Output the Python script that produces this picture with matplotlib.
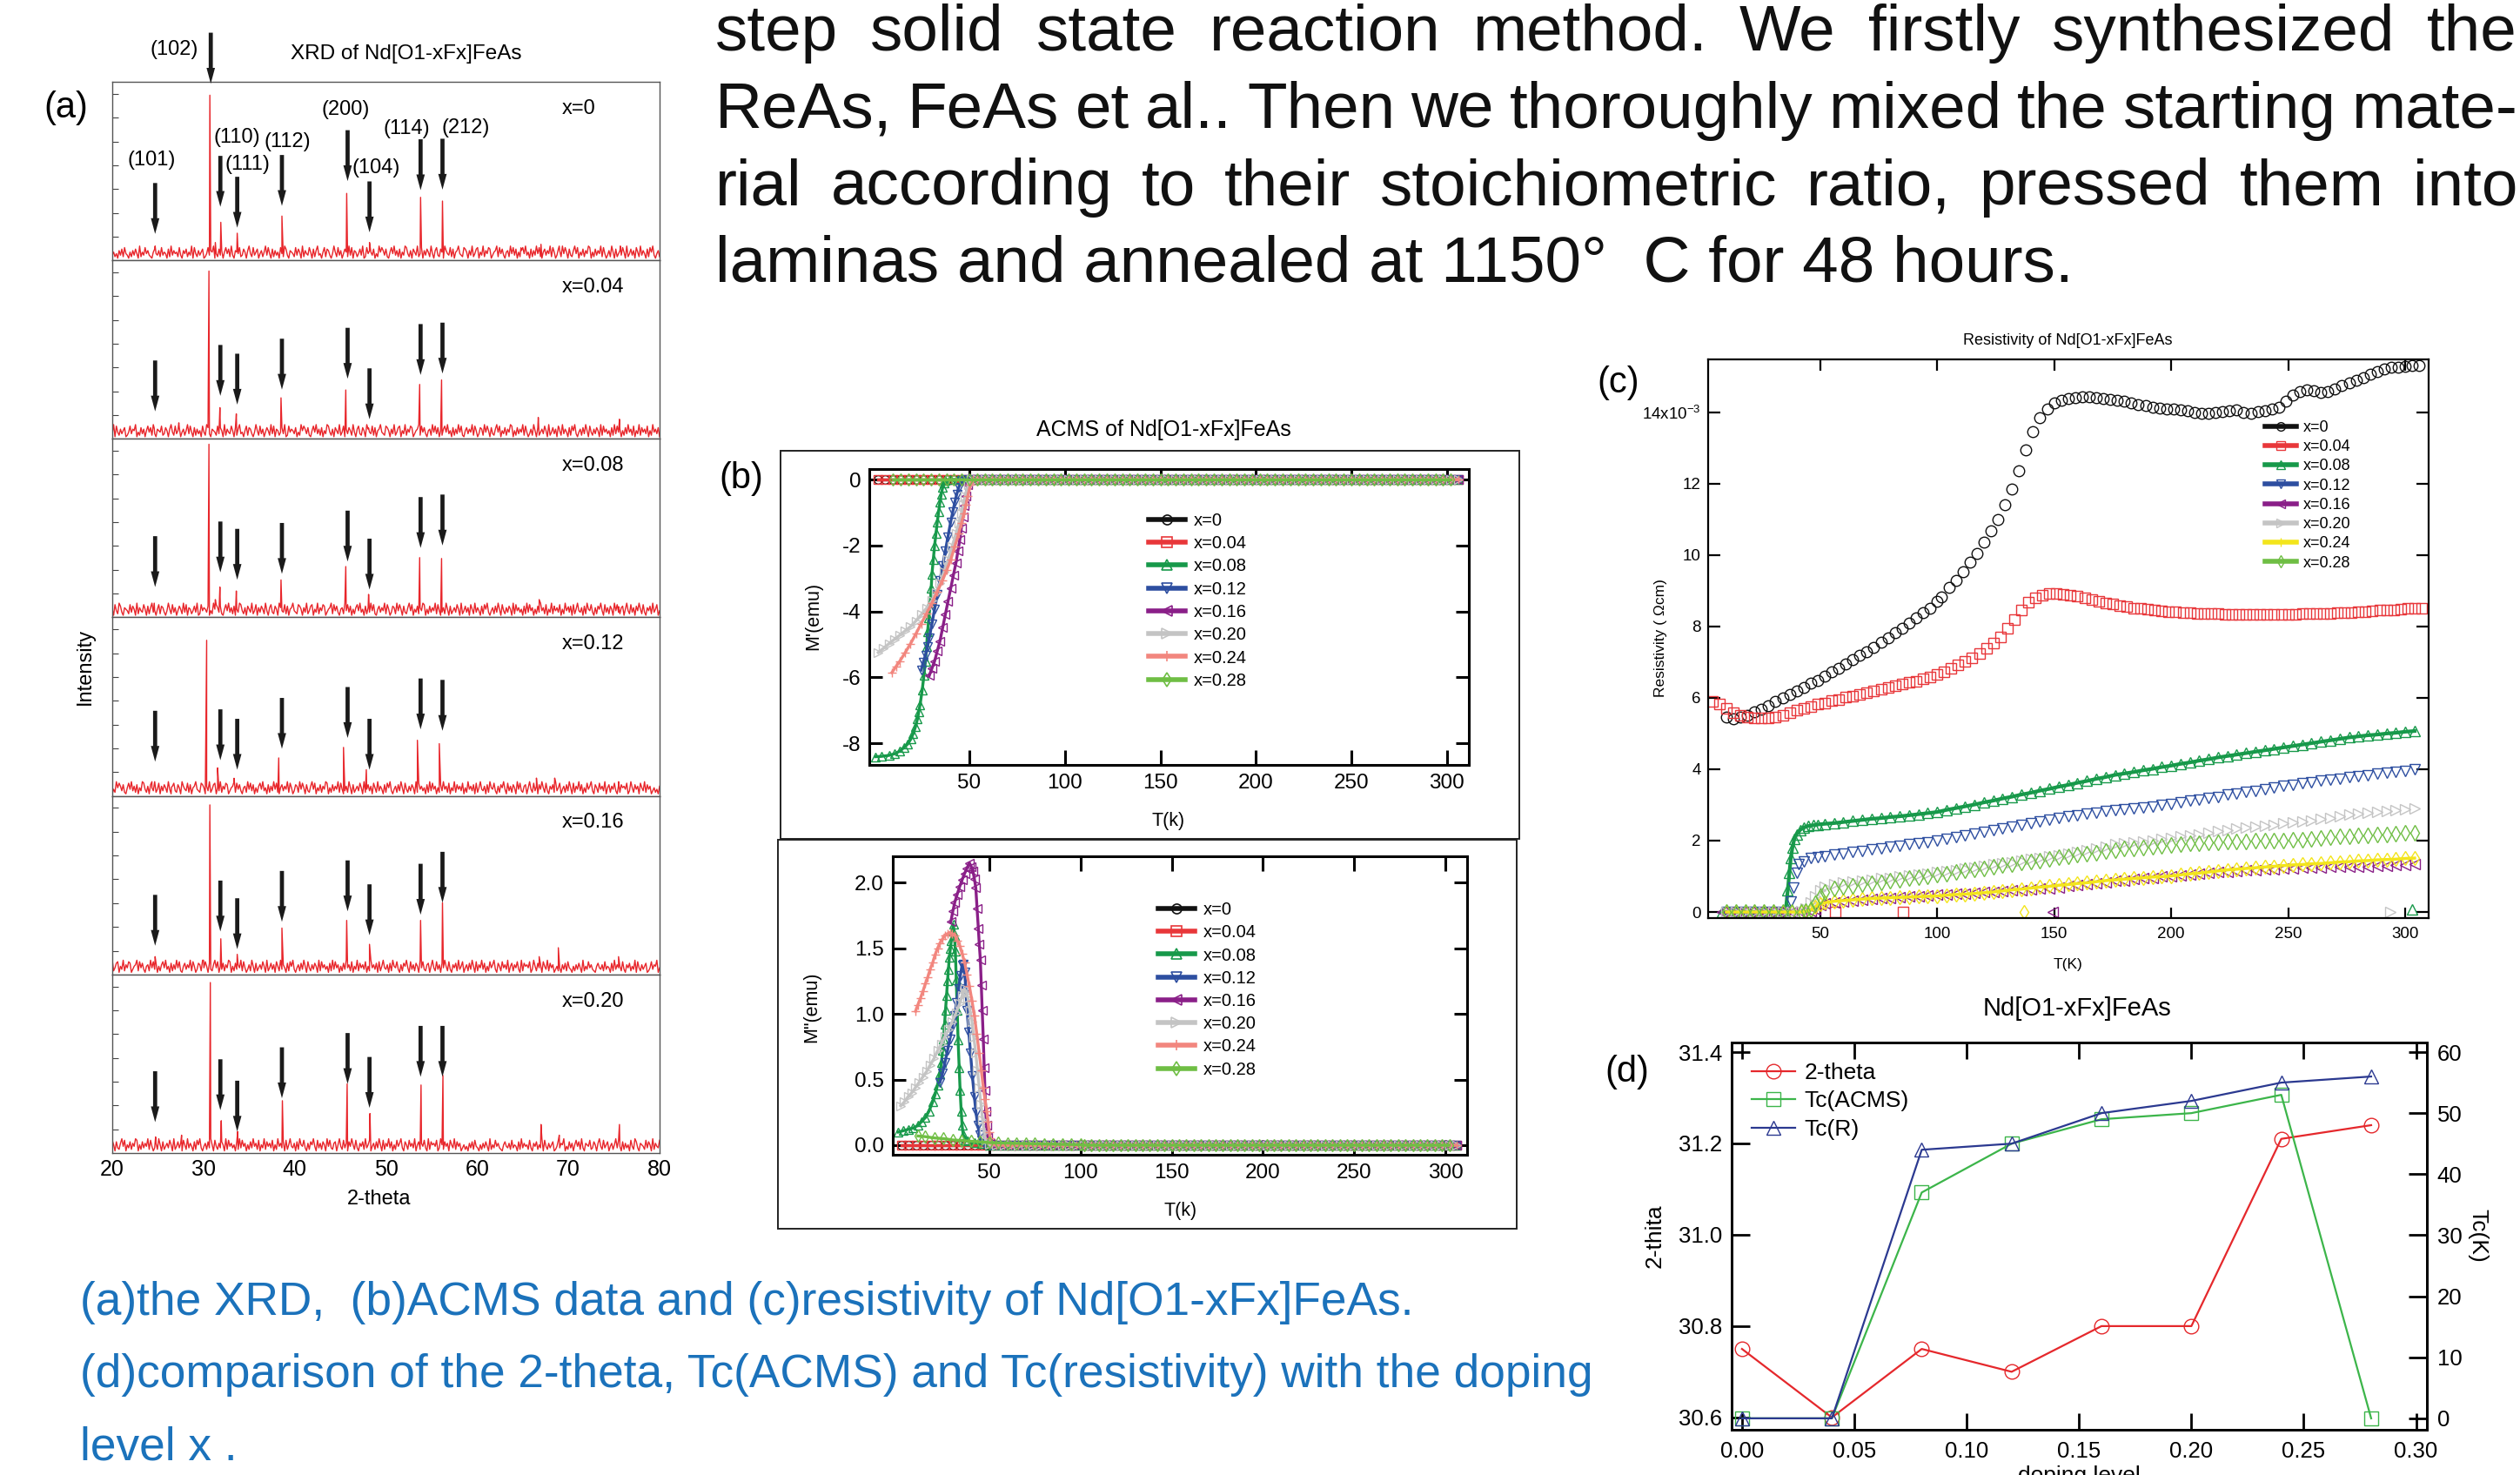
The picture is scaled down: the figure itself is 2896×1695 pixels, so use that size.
import matplotlib
matplotlib.use("Agg")
import matplotlib.pyplot as plt
from matplotlib.lines import Line2D
from matplotlib.patches import Rectangle
from matplotlib.ticker import FixedLocator, FixedFormatter

plt.rcParams['font.family'] = ['Liberation Sans', 'DejaVu Sans']
plt.rcParams['axes.unicode_minus'] = False
plt.rcParams['mathtext.fontset'] = 'custom'
plt.rcParams['mathtext.rm'] = 'Liberation Sans'
plt.rcParams['mathtext.it'] = 'Liberation Sans:italic'

# ======================= DATA =======================
# ---- (a) XRD ----
xrd_panels = ["x=0", "x=0.04", "x=0.08", "x=0.12", "x=0.16", "x=0.20"]
xrd_peak_names = ["(101)", "(102)", "(110)", "(111)", "(112)", "(200)", "(104)", "(114)", "(212)"]
xrd_peak_pos = [24.7, 30.7, 31.9, 33.7, 38.6, 45.7, 48.2, 53.8, 56.2]
xrd_shift = [0.0, -0.1, -0.1, -0.35, 0.0, 0.05]
xrd_peak_h = [
    [0.08, 0.925, 0.213, 0.152, 0.248, 0.375, 0.100, 0.353, 0.332],
    [0.06, 0.940, 0.175, 0.140, 0.230, 0.274, 0.061, 0.305, 0.330],
    [0.08, 0.970, 0.170, 0.148, 0.210, 0.285, 0.129, 0.335, 0.330],
    [0.08, 0.872, 0.157, 0.099, 0.213, 0.272, 0.147, 0.312, 0.293],
    [0.10, 0.950, 0.200, 0.113, 0.260, 0.303, 0.169, 0.303, 0.402],
    [0.09, 0.955, 0.181, 0.120, 0.293, 0.387, 0.221, 0.381, 0.435],
]
xrd_minor = [
    [(31.3, 0.10), (64.8, 0.07), (67.0, 0.09), (69.0, 0.08), (75.7, 0.08)],
    [(27.3, 0.09), (66.7, 0.12), (69.0, 0.06), (75.6, 0.11)],
    [(31.3, 0.10), (65.7, 0.06), (66.8, 0.10), (68.5, 0.05), (70.0, 0.06), (75.5, 0.06)],
    [(26.5, 0.05), (66.5, 0.10), (68.5, 0.10), (75.5, 0.06)],
    [(30.0, 0.08), (66.8, 0.10), (68.9, 0.15), (75.5, 0.10)],
    [(27.6, 0.10), (67.0, 0.16), (69.0, 0.10), (75.6, 0.16)],
]
xrd_arrow_pos = [24.7, 31.85, 33.7, 38.6, 45.8, 48.2, 53.8, 56.2]
xrd_arrow_tip = [
    [0.148, 0.300, 0.183, 0.305, 0.444, 0.157, 0.393, 0.396],
    [0.154, 0.241, 0.192, 0.276, 0.337, 0.110, 0.358, 0.366],
    [0.170, 0.252, 0.211, 0.244, 0.313, 0.156, 0.389, 0.403],
    [0.192, 0.200, 0.147, 0.264, 0.325, 0.147, 0.373, 0.365],
    [0.161, 0.241, 0.142, 0.295, 0.354, 0.220, 0.335, 0.402],
    [0.173, 0.240, 0.120, 0.307, 0.387, 0.253, 0.427, 0.427],
]
xrd_arrow_len = 0.285
xrd_noise = ("2413052617320415263081427352104632517243061825341720536142807315246013725480"
             "3162504736182054371264058317246035148273061524073186205431726408153274061582"
             "3047165203841725036418270541362801735426031847526104738251604287315064281370"
             "5264183057216408532716045832176405281367042815376024581736204518372604157382"
             "4061528371046253817402651837406215837042615387041625381"
             "7302518406135274081362507418253061748203516284073152640817352406182735041628"
             "3517042816352704183526071483250618437205164830725164083721560483172506384172"
             "0536182470351628407153826041735820641735280461537208164537028416350742816350")
xrd_noise_offset = [0, 57, 121, 192, 263, 331]

# ---- (b) ACMS ----
acms_labels = ["x=0", "x=0.04", "x=0.08", "x=0.12", "x=0.16", "x=0.20", "x=0.24", "x=0.28"]
T_b_low = [2, 6, 10, 14, 18, 22, 26, 30, 34, 38, 42, 46, 50]
T_b_norm = [54, 58, 62, 66, 70, 74, 78, 82, 86, 90,
            94, 98, 102, 106, 110, 114, 118, 122, 126, 130,
            134, 138, 142, 146, 150, 154, 158, 162, 166, 170,
            174, 178, 182, 186, 190, 194, 198, 202, 206, 210,
            214, 218, 222, 226, 230, 234, 238, 242, 246, 250,
            254, 258, 262, 266, 270, 274, 278, 282, 286, 290,
            294, 298, 302, 306]
M_normal = 0.0
m1_x008 = [(1, -8.41), (4, -8.40), (8, -8.37), (11, -8.32), (13.6, -8.24), (16, -8.12), (17.8, -8.02),
           (19.3, -7.88), (20.6, -7.71), (21.8, -7.50), (22.8, -7.27), (23.5, -7.05), (24.2, -6.83),
           (25.3, -6.39), (26.2, -5.95), (27, -5.51), (27.6, -5.07), (28.1, -4.63), (28.8, -4.19),
           (29.5, -3.75), (30, -3.31), (30.4, -2.87), (31.1, -2.43), (31.8, -2.00), (32.5, -1.64),
           (33.2, -1.29), (33.9, -0.98), (34.6, -0.68), (35.3, -0.44), (36, -0.24), (36.7, -0.10),
           (37.4, -0.02), (40, 0.0), (44, 0.0), (48, 0.0), (51, 0.0)]
m1_x012 = [(24.8, -5.78), (25.8, -5.55), (27, -5.34), (28, -5.08), (29, -4.81), (30.4, -4.37),
           (31.8, -3.93), (33.2, -3.49), (34.6, -3.05), (36, -2.61), (37.4, -2.17), (38.8, -1.73),
           (40.2, -1.29), (41.3, -0.98), (42.4, -0.68), (43.4, -0.44), (44.4, -0.24), (45.8, -0.06),
           (48, 0.0), (51, 0.0)]
m1_x016 = [(29, -5.95), (30.4, -5.73), (31.8, -5.51), (33.2, -5.20), (34.6, -4.90), (36, -4.50),
           (37.4, -4.10), (38.8, -3.70), (40.2, -3.31), (41.6, -2.91), (43, -2.52), (44, -2.17),
           (45, -1.82), (45.8, -1.47), (46.6, -1.12), (47.3, -0.80), (48, -0.50), (49.2, -0.15),
           (51, 0.0)]
m1_x020 = [(2.3, -5.25), (5, -5.12), (7.9, -4.98), (10.7, -4.85), (13.6, -4.72), (16.4, -4.59),
           (19.2, -4.46), (22, -4.29), (24.8, -4.10), (27.6, -3.90), (30.4, -3.67), (32.5, -3.42),
           (34.6, -3.14), (36.7, -2.80), (38.8, -2.44), (40.9, -2.04), (43, -1.64), (44.4, -1.33),
           (45.8, -1.03), (46.8, -0.76), (47.8, -0.50), (49.4, -0.15), (51, 0.0)]
m1_x024 = [(9.4, -5.86), (11.5, -5.68), (13.6, -5.51), (16.4, -5.25), (19.2, -4.98), (22, -4.68),
           (24.8, -4.37), (27.6, -4.06), (30.4, -3.75), (33.2, -3.40), (36, -3.05), (38.1, -2.75),
           (40.2, -2.44), (42.3, -2.04), (44.4, -1.64), (45.8, -1.33), (47.2, -1.03), (48.2, -0.76),
           (49.2, -0.50), (50.6, -0.15), (52, 0.0)]
m2_x008 = [(0.3, 0.10), (3, 0.11), (5.6, 0.12), (8.3, 0.13), (11, 0.15), (13, 0.18), (15.1, 0.21),
           (17.1, 0.26), (19.1, 0.33), (20.5, 0.39), (21.8, 0.46), (22.9, 0.54), (23.9, 0.63),
           (24.5, 0.72), (25, 0.81), (25.6, 0.92), (26.1, 1.03), (26.7, 1.14), (27.2, 1.25),
           (27.7, 1.34), (28.2, 1.43), (28.8, 1.50), (29.3, 1.56), (29.9, 1.63), (30.4, 1.68),
           (31, 1.60), (31.5, 1.48), (32, 1.26), (32.5, 1.03), (33, 0.80), (33.6, 0.59), (34.1, 0.42),
           (34.7, 0.26), (35.2, 0.15), (35.8, 0.08), (37, 0.04), (38, 0.03), (42, 0.02), (46, 0.01),
           (50, 0.0)]
m2_x012 = [(23.1, 0.48), (24.5, 0.55), (25.8, 0.63), (27.2, 0.72), (28.5, 0.81), (29.8, 0.90),
           (31.2, 0.99), (32.2, 1.09), (33.3, 1.19), (34.2, 1.29), (35.2, 1.37), (36, 1.38),
           (36.6, 1.32), (37.3, 1.18), (37.9, 1.03), (38.9, 0.86), (39.8, 0.70), (40.8, 0.53),
           (41.9, 0.37), (42.8, 0.25), (43.8, 0.15), (44.8, 0.08), (45.9, 0.04), (47.5, 0.01), (51, 0.0)]
m2_x016 = [(29, 1.70), (30.1, 1.78), (31.2, 1.85), (32.5, 1.91), (33.9, 1.97), (35.2, 2.02),
           (36.6, 2.07), (37.9, 2.11), (39.2, 2.15), (40.2, 2.12), (41.1, 2.09), (41.9, 2.03),
           (42.7, 1.96), (43.4, 1.80), (44.1, 1.65), (44.6, 1.53), (45.2, 1.41), (45.7, 1.22),
           (46.2, 1.03), (46.8, 0.81), (47.3, 0.59), (47.7, 0.42), (48.1, 0.26), (48.6, 0.15),
           (49.2, 0.06), (50.8, 0.015)]
m2_x020 = [(1.6, 0.30), (3.6, 0.33), (5.6, 0.37), (7.7, 0.40), (9.7, 0.44), (11.7, 0.48), (13.7, 0.52),
           (15.7, 0.56), (17.7, 0.61), (19.8, 0.66), (21.8, 0.72), (23.8, 0.77), (25.8, 0.83),
           (27.8, 0.88), (29.8, 0.94), (31.9, 1.01), (33.9, 1.08), (35.2, 1.14), (36.6, 1.19),
           (37.5, 1.16), (38.4, 1.12), (39.5, 1.03), (40.6, 0.94), (41.6, 0.82), (42.7, 0.70),
           (43.6, 0.57), (44.6, 0.44), (45.5, 0.31), (46.5, 0.19), (47.3, 0.10), (48.1, 0.04),
           (50, 0.004)]
m2_x024 = [(9.7, 1.02), (11, 1.07), (12.4, 1.12), (13.7, 1.17), (15.1, 1.23), (16.4, 1.28), (17.7, 1.34),
           (19.1, 1.39), (20.4, 1.45), (21.8, 1.50), (23.1, 1.54), (24.5, 1.57), (25.8, 1.60),
           (27.2, 1.61), (28.5, 1.62), (29.8, 1.61), (31.2, 1.60), (32.5, 1.56), (33.9, 1.52),
           (35.2, 1.46), (36.6, 1.39), (37.9, 1.30), (39.2, 1.21), (40.6, 1.10), (41.9, 0.99),
           (43.2, 0.85), (44.6, 0.70), (45.7, 0.57), (46.8, 0.44), (47.7, 0.35), (48.7, 0.26),
           (49.4, 0.18), (50, 0.10), (50.7, 0.05), (51.3, 0.015)]
m2_x028 = [(11, 0.07), (15, 0.065), (20, 0.055), (25, 0.05), (30, 0.04), (35, 0.035), (40, 0.03),
           (45, 0.025), (50, 0.02), (55, 0.018), (60, 0.016), (65, 0.014), (70, 0.012), (75, 0.011),
           (80, 0.009), (85, 0.008), (90, 0.006), (95, 0.005), (100, 0.004)]

# ---- (c) Resistivity (units of 1e-3 Ohm cm) ----
res_labels = ["x=0", "x=0.04", "x=0.08", "x=0.12", "x=0.16", "x=0.20", "x=0.24", "x=0.28"]
rho_x000 = [(10, 5.45), (13, 5.42), (16, 5.45), (19, 5.52), (22, 5.60), (25, 5.68), (28, 5.78), (31, 5.89),
            (34, 6.00), (37, 6.10), (40, 6.20), (43, 6.30), (46, 6.40), (49, 6.48), (52, 6.60), (55, 6.72),
            (58, 6.83), (61, 6.95), (64, 7.07), (67, 7.20), (70, 7.30), (73, 7.42), (76, 7.55), (79, 7.68),
            (82, 7.82), (85, 7.95), (88, 8.10), (91, 8.24), (94, 8.38), (97, 8.52), (100, 8.70),
            (102, 8.82), (105, 9.10), (108, 9.30), (111, 9.53), (114, 9.80), (117, 10.05), (120, 10.35),
            (123, 10.68), (126, 11.00), (129, 11.40), (132, 11.85), (135, 12.35), (138, 12.95),
            (141, 13.45), (144, 13.85), (147, 14.08), (150, 14.25), (153, 14.33), (156, 14.38),
            (159, 14.40), (162, 14.42), (165, 14.42), (168, 14.41), (171, 14.39), (174, 14.36),
            (177, 14.33), (180, 14.30), (183, 14.26), (186, 14.22), (189, 14.18), (192, 14.15),
            (195, 14.12), (198, 14.10), (201, 14.08), (204, 14.06), (207, 14.03), (210, 14.00),
            (213, 13.98), (216, 13.97), (219, 13.99), (222, 14.02), (225, 14.05), (228, 14.06),
            (231, 14.00), (234, 13.98), (237, 14.02), (240, 14.05), (243, 14.08), (246, 14.15),
            (249, 14.30), (252, 14.48), (255, 14.58), (258, 14.63), (261, 14.60), (264, 14.55),
            (267, 14.58), (270, 14.66), (273, 14.75), (276, 14.83), (279, 14.90), (282, 14.96),
            (285, 15.06), (288, 15.14), (291, 15.20), (294, 15.25), (297, 15.27), (300, 15.28),
            (303, 15.30), (306, 15.31)]
rho_x004 = [(4, 5.90), (7, 5.82), (10, 5.70), (13, 5.58), (16, 5.50), (19, 5.45), (22, 5.43), (25, 5.43),
            (28, 5.43), (31, 5.45), (34, 5.50), (37, 5.58), (40, 5.65), (43, 5.70), (46, 5.76), (49, 5.82),
            (52, 5.86), (55, 5.92), (58, 5.96), (61, 6.01), (64, 6.05), (67, 6.10), (70, 6.15), (73, 6.20),
            (76, 6.24), (79, 6.29), (82, 6.34), (85, 6.38), (88, 6.43), (91, 6.47), (94, 6.53), (97, 6.59),
            (100, 6.65), (103, 6.73), (106, 6.82), (109, 6.92), (112, 7.03), (115, 7.13), (118, 7.25),
            (121, 7.38), (124, 7.53), (127, 7.70), (130, 7.95), (133, 8.18), (136, 8.45), (139, 8.68),
            (142, 8.80), (145, 8.88), (148, 8.92), (151, 8.93), (154, 8.91), (157, 8.88), (160, 8.85),
            (163, 8.81), (166, 8.76), (169, 8.70), (172, 8.66), (175, 8.62), (178, 8.58), (181, 8.55),
            (184, 8.52), (187, 8.50), (190, 8.48), (193, 8.46), (196, 8.44), (199, 8.42), (202, 8.41),
            (205, 8.39), (208, 8.38), (211, 8.37), (214, 8.36), (217, 8.35), (220, 8.35), (223, 8.34),
            (226, 8.34), (229, 8.34), (232, 8.33), (235, 8.33), (238, 8.33), (241, 8.33), (244, 8.33),
            (247, 8.34), (250, 8.34), (253, 8.34), (256, 8.35), (259, 8.35), (262, 8.36), (265, 8.36),
            (268, 8.37), (271, 8.38), (274, 8.38), (277, 8.39), (280, 8.40), (283, 8.42), (286, 8.43),
            (289, 8.45), (292, 8.46), (295, 8.47), (298, 8.49), (301, 8.50), (304, 8.51), (307, 8.52)]
T_c_grid = [52, 56, 60, 64, 68, 72, 76, 80, 84, 88,
            92, 96, 100, 104, 108, 112, 116, 120, 124, 128,
            132, 136, 140, 144, 148, 152, 156, 160, 164, 168,
            172, 176, 180, 184, 188, 192, 196, 200, 204, 208,
            212, 216, 220, 224, 228, 232, 236, 240, 244, 248,
            252, 256, 260, 264, 268, 272, 276, 280, 284, 288,
            292, 296, 300, 304]
rho_lowT_x008 = [(8, 0), (11, 0), (14, 0), (17, 0), (20, 0), (23, 0), (26, 0), (29, 0), (32, 0),
                 (34, 0.02), (35.5, 0.15), (36.2, 0.6),
                 (36.9, 1.09), (37.5, 1.5), (38.2, 1.8), (39, 2.04), (40, 2.18), (41.5, 2.3), (43, 2.37),
                 (45, 2.41), (47, 2.43), (49, 2.45)]
rho_x008 = [2.47, 2.49, 2.52, 2.55, 2.58, 2.61, 2.63, 2.66, 2.68, 2.71,
            2.74, 2.77, 2.80, 2.86, 2.91, 2.96, 3.01, 3.07, 3.12, 3.18,
            3.23, 3.29, 3.34, 3.40, 3.45, 3.51, 3.56, 3.62, 3.67, 3.73,
            3.78, 3.84, 3.88, 3.92, 3.97, 4.01, 4.06, 4.10, 4.15, 4.19,
            4.24, 4.28, 4.33, 4.37, 4.41, 4.45, 4.49, 4.53, 4.57, 4.61,
            4.65, 4.69, 4.73, 4.77, 4.81, 4.85, 4.89, 4.92, 4.95, 4.97,
            5.00, 5.02, 5.05, 5.07]
rho_lowT_x012 = [(10, 0), (14, 0), (18, 0), (22, 0), (26, 0), (30, 0), (34, 0), (37.5, 0.3), (38.8, 0.68),
                 (40, 1.1), (41, 1.33), (43, 1.42), (46, 1.51), (49, 1.53)]
rho_x012 = [1.56, 1.60, 1.64, 1.68, 1.71, 1.75, 1.78, 1.82, 1.85, 1.89,
            1.92, 1.96, 2.00, 2.05, 2.10, 2.15, 2.20, 2.25, 2.30, 2.35,
            2.40, 2.45, 2.49, 2.54, 2.59, 2.63, 2.67, 2.71, 2.75, 2.79,
            2.83, 2.86, 2.88, 2.90, 2.92, 2.95, 2.99, 3.03, 3.06, 3.11,
            3.15, 3.19, 3.23, 3.28, 3.32, 3.36, 3.40, 3.44, 3.48, 3.53,
            3.57, 3.60, 3.64, 3.67, 3.71, 3.74, 3.78, 3.81, 3.84, 3.87,
            3.90, 3.93, 3.96, 3.99]
rho_lowT_x016 = [(8, 0), (11, 0), (14, 0), (17, 0), (20, 0), (23, 0), (26, 0), (29, 0), (32, 0), (35, 0),
                 (38, 0), (42, 0), (46, 0.02), (48, 0.08), (50, 0.2)]
rho_x016 = [0.25, 0.27, 0.29, 0.31, 0.34, 0.36, 0.38, 0.40, 0.42, 0.43,
            0.45, 0.47, 0.48, 0.50, 0.51, 0.52, 0.54, 0.55, 0.56, 0.58,
            0.60, 0.61, 0.63, 0.65, 0.67, 0.69, 0.72, 0.75, 0.78, 0.81,
            0.84, 0.87, 0.89, 0.92, 0.94, 0.96, 0.99, 1.01, 1.03, 1.05,
            1.07, 1.09, 1.11, 1.13, 1.15, 1.16, 1.17, 1.19, 1.20, 1.22,
            1.23, 1.24, 1.25, 1.25, 1.26, 1.26, 1.27, 1.27, 1.28, 1.29,
            1.30, 1.31, 1.32, 1.33]
rho_lowT_x020 = [(10, 0), (14, 0), (18, 0), (22, 0), (26, 0), (30, 0), (34, 0), (38, 0), (42, 0.02),
                 (44, 0.1), (46, 0.26), (48, 0.45), (50, 0.6)]
rho_x020 = [0.70, 0.79, 0.83, 0.86, 0.88, 0.91, 0.94, 0.96, 0.99, 1.02,
            1.05, 1.07, 1.11, 1.14, 1.18, 1.22, 1.25, 1.29, 1.33, 1.37,
            1.40, 1.44, 1.48, 1.51, 1.55, 1.59, 1.64, 1.69, 1.74, 1.79,
            1.84, 1.89, 1.92, 1.95, 1.98, 2.01, 2.04, 2.07, 2.11, 2.15,
            2.18, 2.22, 2.26, 2.30, 2.33, 2.36, 2.39, 2.42, 2.45, 2.48,
            2.50, 2.53, 2.57, 2.61, 2.64, 2.68, 2.72, 2.75, 2.78, 2.80,
            2.83, 2.85, 2.87, 2.89]
rho_lowT_x024 = [(10, 0), (14, 0), (18, 0), (22, 0), (26, 0), (30, 0), (34, 0), (38, 0), (42, 0),
                 (44, 0.02), (46, 0.05), (48, 0.15), (50, 0.22)]
rho_x024 = [0.26, 0.30, 0.32, 0.34, 0.36, 0.38, 0.39, 0.40, 0.41, 0.42,
            0.43, 0.44, 0.45, 0.47, 0.49, 0.50, 0.52, 0.54, 0.56, 0.59,
            0.62, 0.64, 0.67, 0.70, 0.72, 0.75, 0.77, 0.80, 0.82, 0.85,
            0.88, 0.90, 0.92, 0.94, 0.96, 0.98, 0.99, 1.01, 1.04, 1.07,
            1.09, 1.12, 1.15, 1.18, 1.20, 1.22, 1.24, 1.26, 1.28, 1.30,
            1.32, 1.33, 1.35, 1.36, 1.38, 1.40, 1.41, 1.43, 1.44, 1.46,
            1.47, 1.48, 1.50, 1.51]
rho_lowT_x028 = [(10, 0), (14, 0), (18, 0), (22, 0), (26, 0), (30, 0), (34, 0), (38, 0), (42, 0),
                 (44, 0.02), (46, 0.08), (48, 0.25), (50, 0.44)]
rho_x028 = [0.55, 0.67, 0.71, 0.74, 0.77, 0.80, 0.83, 0.87, 0.90, 0.94,
            0.97, 1.01, 1.05, 1.08, 1.12, 1.16, 1.19, 1.23, 1.27, 1.31,
            1.34, 1.38, 1.42, 1.45, 1.49, 1.53, 1.56, 1.60, 1.64, 1.67,
            1.71, 1.74, 1.77, 1.79, 1.81, 1.84, 1.86, 1.88, 1.90, 1.92,
            1.93, 1.94, 1.95, 1.97, 1.98, 1.98, 1.99, 2.00, 2.00, 2.01,
            2.02, 2.03, 2.05, 2.07, 2.09, 2.11, 2.12, 2.14, 2.15, 2.17,
            2.18, 2.20, 2.21, 2.22]
rho_stray_x004 = [(56.5, 0.0), (85.3, 0.0)]
rho_stray_x008 = [(303, 0.08)]
rho_stray_x016 = [(149.3, 0.0)]
rho_stray_x020 = [(293.5, 0.0)]
rho_stray_x024 = [(137, 0.0)]

# ---- (d) comparison ----
doping = [0.00, 0.04, 0.08, 0.12, 0.16, 0.20, 0.24, 0.28]
two_theta = [30.75, 30.60, 30.75, 30.70, 30.80, 30.80, 31.21, 31.24]
tc_acms = [0, 0, 37, 45, 49, 50, 53, 0]
tc_res = [0, 0, 44, 45, 50, 52, 55, 56]
cmp_labels = ["2-theta", "Tc(ACMS)", "Tc(R)"]

# ---- text ----
para_lines = ["step solid state reaction method. We firstly synthesized the",
              "ReAs, FeAs et al.. Then we thoroughly mixed the starting mate-",
              "rial according to their stoichiometric ratio, pressed them into",
              "laminas and annealed at 1150\u00b0  C for 48 hours."]
caption_lines = ["(a)the XRD,  (b)ACMS data and (c)resistivity of Nd[O1-xFx]FeAs.",
                 "(d)comparison of the 2-theta, Tc(ACMS) and Tc(resistivity) with the doping",
                 "level x ."]

# ======================= STYLE / LAYOUT =======================
W, H = 2896, 1695
fig = plt.figure(figsize=(W / 100, H / 100), dpi=100)
fig.patch.set_facecolor('white')


def fx(x):
    return x / W


def fy(y):
    return 1 - y / H


def rect(x0, y0, x1, y1):
    return [x0 / W, 1 - y1 / H, (x1 - x0) / W, (y1 - y0) / H]


def ptext(x, y, s, **kw):
    return fig.text(fx(x), fy(y), s, **kw)


C_BLACK = '#111111'
C_RED = '#e8373a'
C_GREEN = '#17994a'
C_BLUE = '#2d4ea0'
C_PURPLE = '#8a1f88'
C_GRAY = '#c4c4c4'
C_SALMON = '#f2867e'
C_YELLOW = '#f3e51c'
C_LGREEN = '#6fbe44'

# ---------------- (a) XRD ----------------
XRD_L, XRD_R, XRD_T, XRD_B = 129, 758, 94, 1325
ph = (XRD_B - XRD_T) / 6
grid = [20 + 0.15 * k for k in range(401)]
axes_a = []
for i in range(6):
    y0 = XRD_T + i * ph
    ax = fig.add_axes(rect(XRD_L, y0, XRD_R, y0 + ph))
    axes_a.append(ax)
    off = xrd_noise_offset[i]
    pts = []
    for k, g in enumerate(grid):
        d = int(xrd_noise[(off + k) % len(xrd_noise)])
        pts.append((g, 0.012 + 0.0085 * d))
    for p, h in zip(xrd_peak_pos, xrd_peak_h[i]):
        pts.append((p + xrd_shift[i], h))
    pts.extend(xrd_minor[i])
    pts.sort()
    ax.plot([p[0] for p in pts], [p[1] for p in pts], color='#e8262b', lw=1.0)
    ax.set_xlim(20, 80)
    ax.set_ylim(0, 1)
    ax.yaxis.set_major_locator(FixedLocator([0.133, 0.266, 0.4, 0.533, 0.666, 0.8, 0.933]))
    ax.tick_params(axis='y', direction='in', length=5, width=0.8, labelleft=False, color='#444444')
    ax.tick_params(axis='x', length=0, labelsize=18, pad=5)
    if i < 5:
        ax.tick_params(axis='x', labelbottom=False)
    else:
        ax.set_xticks([20, 30, 40, 50, 60, 70, 80])
    for s in ax.spines.values():
        s.set_linewidth(1.0)
        s.set_color('#555555')
    ax.text(0.822, 0.85, xrd_panels[i], transform=ax.transAxes, fontsize=17, ha='left', va='center')
    for pos, tip in zip(xrd_arrow_pos, xrd_arrow_tip[i]):
        ax.annotate('', xy=(pos, tip), xytext=(pos, tip + xrd_arrow_len),
                    arrowprops=dict(arrowstyle='simple,head_length=1.3,head_width=0.7,tail_width=0.34',
                                    fc='#1a1a1a', ec='none', lw=0, shrinkA=0, shrinkB=0,
                                    mutation_scale=10),
                    annotation_clip=False)

axes_a[0].annotate('', xy=(30.8, 0.99), xytext=(30.8, 1.275),
                   arrowprops=dict(arrowstyle='simple,head_length=1.3,head_width=0.7,tail_width=0.34',
                                   fc='#1a1a1a', ec='none', lw=0, shrinkA=0, shrinkB=0, mutation_scale=10),
                   annotation_clip=False)

label_xy = {"(101)": (174, 184), "(102)": (200, 57), "(110)": (272, 158), "(111)": (284, 189),
            "(112)": (330, 163), "(200)": (397, 126), "(104)": (432, 193), "(114)": (467, 148),
            "(212)": (535, 147)}
for name in xrd_peak_names:
    x, y = label_xy[name]
    ptext(x, y, name, fontsize=17, ha='center', va='center')
ptext(467, 62, "XRD of Nd[O1-xFx]FeAs", fontsize=17.5, ha='center', va='center')
ptext(76, 124, "(a)", fontsize=30, ha='center', va='center')
ptext(98, 766, "Intensity", fontsize=17, rotation=90, ha='center', va='center')
ptext(436, 1378, "2-theta", fontsize=17, ha='center', va='center')

# ---------------- (b) ACMS ----------------
fig.add_artist(Rectangle((fx(896.6), fy(964)), (1745.8 - 896.6) / W, (964 - 518.3) / H,
                         transform=fig.transFigure, fill=False, ec='#222222', lw=1.4))
fig.add_artist(Rectangle((fx(894), fy(1412)), (1743 - 894) / W, (1412 - 965) / H,
                         transform=fig.transFigure, fill=False, ec='#222222', lw=1.4))

acms_colors = [C_BLACK, C_RED, C_GREEN, C_BLUE, C_PURPLE, C_GRAY, C_SALMON, C_LGREEN]
acms_markers = ['o', 's', '^', 'v', '<', '>', '+', 'd']


def with_normal(pairs, t_norm):
    last = pairs[-1][0] if pairs else -1
    return list(pairs) + [(t, M_normal) for t in t_norm if t > last]


flat_low = [(t, M_normal) for t in T_b_low]
flat_low_028 = [(t, M_normal) for t in T_b_low if t >= 10]
m1_series = [with_normal(flat_low, T_b_norm), with_normal(flat_low, T_b_norm),
             with_normal(m1_x008, T_b_norm), with_normal(m1_x012, T_b_norm),
             with_normal(m1_x016, T_b_norm), with_normal(m1_x020, T_b_norm),
             with_normal(m1_x024, T_b_norm), with_normal(flat_low_028, T_b_norm[:-1])]
m2_series = [with_normal(flat_low, T_b_norm), with_normal(flat_low, T_b_norm),
             with_normal(m2_x008, T_b_norm), with_normal(m2_x012, T_b_norm),
             with_normal(m2_x016, T_b_norm), with_normal(m2_x020, T_b_norm),
             with_normal(m2_x024, T_b_norm), with_normal(m2_x028, T_b_norm[:-1])]


def style_b(ax):
    ax.set_xticks([50, 100, 150, 200, 250, 300])
    ax.tick_params(direction='in', top=True, right=True, width=2.2, labelsize=17.5)
    ax.tick_params(axis='x', length=12, pad=7)
    ax.tick_params(axis='y', length=11, pad=7)
    for s in ax.spines.values():
        s.set_linewidth(2.2)


def acms_legend(ax, x, y):
    handles = [Line2D([], [], color=c, lw=4, marker=m, ms=8, mfc='none', mec=c, mew=1.2)
               for c, m in zip(acms_colors, acms_markers)]
    ax.legend(handles, acms_labels, loc='upper left', bbox_to_anchor=(fx(x), fy(y)),
              bbox_transform=fig.transFigure, frameon=False, fontsize=14.5, handlelength=2.1,
              handletextpad=0.45, labelspacing=0.36, borderpad=0, borderaxespad=0)


axb1 = fig.add_axes(rect(999, 539, 1688, 879))
for col, mk, ser in zip(acms_colors, acms_markers, m1_series):
    axb1.plot([p[0] for p in ser], [p[1] for p in ser], color=col, lw=2.4, marker=mk, ms=7,
              mfc='none', mec=col, mew=1.0)
axb1.set_xlim(-2.4, 311.5)
axb1.set_ylim(-8.66, 0.32)
axb1.set_yticks([0, -2, -4, -6, -8])
style_b(axb1)
acms_legend(axb1, 1320, 589)

axb2 = fig.add_axes(rect(1025.5, 984, 1686.5, 1327))
for col, mk, ser in zip(acms_colors, acms_markers, m2_series):
    axb2.plot([p[0] for p in ser], [p[1] for p in ser], color=col, lw=2.4, marker=mk, ms=7,
              mfc='none', mec=col, mew=1.0)
axb2.set_xlim(-3, 312)
axb2.set_ylim(-0.073, 2.2)
axb2.set_yticks([0, 0.5, 1.0, 1.5, 2.0])
axb2.set_yticklabels(['0.0', '0.5', '1.0', '1.5', '2.0'])
style_b(axb2)
acms_legend(axb2, 1331, 1036)

ptext(1337, 494, "ACMS of Nd[O1-xFx]FeAs", fontsize=18, ha='center', va='center')
ptext(852, 550, "(b)", fontsize=30, ha='center', va='center')
ptext(935, 708, "M'(emu)", fontsize=15.5, rotation=90, ha='center', va='center')
ptext(1343, 943, "T(k)", fontsize=15.5, ha='center', va='center')
ptext(933, 1157, 'M"(emu)', fontsize=15.5, rotation=90, ha='center', va='center')
ptext(1357, 1392, "T(k)", fontsize=15.5, ha='center', va='center')

# ---------------- (c) Resistivity ----------------
res_colors = [C_BLACK, C_RED, C_GREEN, C_BLUE, C_PURPLE, C_GRAY, C_YELLOW, C_LGREEN]
res_markers = ['o', 's', '^', 'v', '<', '>', 'd', 'd']
res_series = [rho_x000, rho_x004,
              rho_lowT_x008 + list(zip(T_c_grid, rho_x008)),
              rho_lowT_x012 + list(zip(T_c_grid, rho_x012)),
              rho_lowT_x016 + list(zip(T_c_grid, rho_x016)),
              rho_lowT_x020 + list(zip(T_c_grid, rho_x020)),
              rho_lowT_x024 + list(zip(T_c_grid, rho_x024)),
              rho_lowT_x028 + list(zip(T_c_grid, rho_x028))]
res_stray = [[], rho_stray_x004, rho_stray_x008, [], rho_stray_x016, rho_stray_x020, rho_stray_x024, []]
res_ms = [9, 8.5, 8.5, 9, 8, 8, 8, 9]
res_band = [0, 0, 3.0, 0, 0, 0, 2.5, 0]   # dense-looking series also drawn as a band

axc = fig.add_axes(rect(1963, 413, 2791, 1055))
for col, mk, ser, st, ms, band in zip(res_colors, res_markers, res_series, res_stray, res_ms, res_band):
    if band:
        axc.plot([p[0] for p in ser], [p[1] for p in ser], color=col, lw=band)
    allp = ser + st
    axc.plot([p[0] for p in allp], [p[1] for p in allp], ls='none', marker=mk, ms=ms,
             mfc='none', mec=col, mew=1.0)
axc.set_xlim(2.2, 310)
axc.set_ylim(-0.17, 15.48)
axc.set_xticks([50, 100, 150, 200, 250, 300])
axc.yaxis.set_major_locator(FixedLocator([0, 2, 4, 6, 8, 10, 12, 14]))
axc.yaxis.set_major_formatter(FixedFormatter(['0', '2', '4', '6', '8', '10', '12', r'14x10$^{-3}$']))
axc.tick_params(direction='in', top=True, right=True, width=1.6, labelsize=13.5)
axc.tick_params(axis='x', length=9, pad=7)
axc.tick_params(axis='y', length=10, pad=6)
for s in axc.spines.values():
    s.set_linewidth(1.6)
res_handles = [Line2D([], [], color=c, lw=4, marker=m, ms=7, mfc='none', mec=c, mew=1.0)
               for c, m in zip(res_colors, ['o', 's', '^', 'v', '<', '>', '+', 'd'])]
axc.legend(res_handles, res_labels, loc='upper left', bbox_to_anchor=(fx(2603), fy(483)),
           bbox_transform=fig.transFigure, frameon=False, fontsize=13, handlelength=2.0,
           handletextpad=0.4, labelspacing=0.29, borderpad=0, borderaxespad=0)
ptext(2376, 392, "Resistivity of Nd[O1-xFx]FeAs", fontsize=13, ha='center', va='center')
ptext(1860, 440, "(c)", fontsize=30, ha='center', va='center')
ptext(1909, 733, "Resistivity ( \u03a9cm)", fontsize=12.5, rotation=90, ha='center', va='center')
ptext(2377, 1108, "T(K)", fontsize=12.5, ha='center', va='center')

# ---------------- (d) comparison ----------------
D_RED = '#e5282c'
D_GREEN = '#3cb54a'
D_BLUE = '#2b3990'
axd = fig.add_axes(rect(1990, 1198, 2789, 1642.5))
axd.plot(doping, two_theta, color=D_RED, lw=1.6, marker='o', ms=12, mfc='none', mec=D_RED, mew=1.0)
axd.set_xlim(-0.0046, 0.3048)
axd.set_ylim(30.574, 31.421)
axd.set_xticks([0.0, 0.05, 0.10, 0.15, 0.20, 0.25, 0.30])
axd.set_xticklabels(['0.00', '0.05', '0.10', '0.15', '0.20', '0.25', '0.30'])
axd.set_yticks([30.6, 30.8, 31.0, 31.2, 31.4])
axd.set_yticklabels(['30.6', '30.8', '31.0', '31.2', '31.4'])
axd.tick_params(direction='in', top=True, width=2.0, labelsize=18.5)
axd.tick_params(axis='x', length=14, pad=10)
axd.tick_params(axis='y', length=15, pad=7.5)
axd2 = axd.twinx()
axd2.plot(doping, tc_acms, color=D_GREEN, lw=1.6, marker='s', ms=12, mfc='none', mec=D_GREEN, mew=1.0)
axd2.plot(doping, tc_res, color=D_BLUE, lw=1.6, marker='^', ms=12, mfc='none', mec=D_BLUE, mew=1.0)
axd2.set_ylim(-1.8, 61.57)
axd2.set_yticks([0, 10, 20, 30, 40, 50, 60])
axd2.tick_params(direction='in', width=2.0, length=15, labelsize=18.5, pad=8.5)
for a in (axd, axd2):
    for s in a.spines.values():
        s.set_linewidth(2.0)
d_handles = [Line2D([], [], color=D_RED, lw=1.6, marker='o', ms=12, mfc='none', mew=1.0),
             Line2D([], [], color=D_GREEN, lw=1.6, marker='s', ms=12, mfc='none', mew=1.0),
             Line2D([], [], color=D_BLUE, lw=1.6, marker='^', ms=12, mfc='none', mew=1.0)]
axd2.legend(d_handles, cmp_labels, loc='upper left', bbox_to_anchor=(fx(2013), fy(1221)),
            bbox_transform=fig.transFigure, frameon=False, fontsize=19, handlelength=1.9,
            handletextpad=0.4, labelspacing=0.32, borderpad=0, borderaxespad=0)
ptext(2387, 1159, "Nd[O1-xFx]FeAs", fontsize=21, ha='center', va='center')
ptext(1870, 1232, "(d)", fontsize=30, ha='center', va='center')
ptext(1902, 1420, "2-thita", fontsize=19, rotation=90, ha='center', va='center')
ptext(2847, 1420, "Tc(K)", fontsize=19, rotation=270, ha='center', va='center')
ptext(2389, 1684, "doping level", fontsize=19, ha='center', va='top')

# ---------------- paragraph text ----------------
renderer = fig.canvas.get_renderer()


def text_width(s, size):
    t = fig.text(0, 0, s, fontsize=size)
    w = t.get_window_extent(renderer).width
    t.remove()
    return w


para_size = 48 * 1563 / text_width(para_lines[3], 48)
para_base = [58, 146.7, 235.4, 324]
for j, line in enumerate(para_lines):
    if j < 3:
        words = line.split(' ')
        widths = [text_width(w, para_size) for w in words]
        gap = (2893 - 822 - sum(widths)) / (len(words) - 1)
        x = 822
        for w, wd in zip(words, widths):
            ptext(x, para_base[j], w, fontsize=para_size, ha='left', va='baseline', color='#111111')
            x += wd + gap
    else:
        ptext(822, para_base[j], line, fontsize=para_size, ha='left', va='baseline', color='#111111')

cap_size = 40 * 1737 / text_width(caption_lines[1], 40)
cap_base = [1511, 1594, 1677]
for j, line in enumerate(caption_lines):
    ptext(92, cap_base[j], line, fontsize=cap_size, ha='left', va='baseline', color='#1b72bb')

fig.savefig('out.png', dpi=100)
